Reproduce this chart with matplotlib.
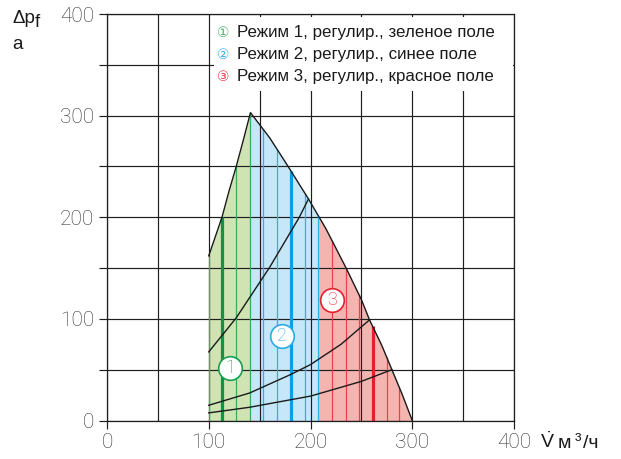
import numpy as np
import matplotlib
matplotlib.use('Agg')
import matplotlib.pyplot as plt
from matplotlib.patches import Rectangle
from matplotlib.ticker import MultipleLocator

# ---- data ----
left_V = [100, 113, 120, 127, 134, 141]
left_dp = [162, 200, 226, 250, 276, 303]
right_V = [141, 160, 178, 198, 215, 235, 250, 258, 270, 280, 290, 300]
right_dp = [303, 278, 250, 218, 189, 150, 119, 99, 74, 50, 26, 0]

c1_V = [100, 127, 160, 189, 198]
c1_dp = [67.5, 101, 151, 200, 218]
c2_V = [100, 140, 180, 200, 230, 258]
c2_dp = [15, 27, 45, 55, 75, 99]
c3_V = [100, 140, 200, 219, 250, 280]
c3_dp = [7.5, 13, 24, 29.5, 38.5, 50]

zone_bounds = [100, 141, 207.5, 300]
green_lines = [100, 113, 127, 141]
blue_lines = [153.5, 167, 181, 194.5, 207.5]
red_lines = [221.5, 235, 248, 261, 275, 287]
thick_lines = [113, 181, 261]

zone_labels = ['1', '2', '3']
zone_label_V = [121, 172, 221]
zone_label_dp = [52, 83.5, 119]

legend_texts = ['Режим 1, регулир., зеленое поле',
                'Режим 2, регулир., синее поле',
                'Режим 3, регулир., красное поле']
legend_marks = ['①', '②', '③']

x_ticks = [0, 100, 200, 300, 400]
y_ticks = [0, 100, 200, 300, 400]

# ---- styles ----
fill_cols = ['#cfe4b2', '#c6e7f8', '#f4b5b0']
line_cols = ['#3aaa5e', '#2db0e6', '#ee3f4a']
thick_cols = ['#0f9444', '#08a2e4', '#e3202b']
circ_cols = ['#1a9e50', '#2aace2', '#e8202a']
leg_cols = ['#4cb870', '#3ab4e6', '#ef4050']

plt.rcParams['mathtext.fontset'] = 'custom'
plt.rcParams['mathtext.rm'] = 'Liberation Sans'

W, H = 621, 459
fig = plt.figure(figsize=(W / 100, H / 100), dpi=100)
x0, x1, y0, y1 = 107, 514, 420.5, 14
ax = fig.add_axes([x0 / W, 1 - y0 / H, (x1 - x0) / W, (y0 - y1) / H])
ax.set_xlim(0, 400)
ax.set_ylim(0, 400)

env_V = np.array(left_V + right_V[1:], dtype=float)
env_dp = np.array(left_dp + right_dp[1:], dtype=float)

def env(v):
    return np.interp(v, env_V, env_dp)

# zone fills
for i in range(3):
    a, b = zone_bounds[i], zone_bounds[i + 1]
    xs = np.unique(np.concatenate([[a, b], env_V[(env_V > a) & (env_V < b)]]))
    ax.fill_between(xs, 0, env(xs), color=fill_cols[i], lw=0, zorder=1)

# ticks
ax.set_xticks(x_ticks)
ax.set_yticks(y_ticks)
ax.set_xticklabels([str(t) for t in x_ticks])
ax.set_yticklabels([str(t) for t in y_ticks])
ax.xaxis.set_minor_locator(MultipleLocator(50))
ax.yaxis.set_minor_locator(MultipleLocator(50))
ax.set_axisbelow(False)
ax.grid(which='both', color='#1e1e1e', lw=0.85)
ax.tick_params(axis='both', which='major', direction='out', length=5.8, width=0.85,
               color='#1e1e1e', labelsize=15, labelcolor='#333333')
ax.tick_params(axis='x', which='major', pad=3)
ax.tick_params(axis='y', which='major', pad=3.5)
ax.tick_params(axis='x', which='minor', length=0)
ax.tick_params(axis='y', which='minor', direction='out', length=5.8, width=0.85, color='#1e1e1e')
for lab in ax.get_xticklabels() + ax.get_yticklabels():
    lab.set_family('Roboto')
    lab.set_fontweight('light')

# zone vertical lines
for i, lines in enumerate([green_lines, blue_lines, red_lines]):
    for v in lines:
        thick = v in thick_lines
        ax.plot([v, v], [0, env(v)], color=thick_cols[i] if thick else line_cols[i],
                lw=2.3 if thick else 0.9, zorder=3, solid_capstyle='butt')

# outline and system curves
ax.plot(env_V, env_dp, color='#1a1a1a', lw=1.0, zorder=4)
for cv, cd in [(c1_V, c1_dp), (c2_V, c2_dp), (c3_V, c3_dp)]:
    ax.plot(cv, cd, color='#1a1a1a', lw=1.0, zorder=4)

# zone labels
for i in range(3):
    ax.plot(zone_label_V[i], zone_label_dp[i], 'o', ms=17, mfc='white',
            mec=circ_cols[i], mew=1.2, zorder=5)
    ax.text(zone_label_V[i], zone_label_dp[i] - 0.5, zone_labels[i], color=circ_cols[i],
            fontsize=13, family='Roboto', fontweight='light',
            ha='center', va='center', zorder=6)

for sp in ax.spines.values():
    sp.set_color('#1e1e1e')
    sp.set_linewidth(0.9)
    sp.set_zorder(7)

def fp(px, py):
    return px / W, 1 - py / H

# legend box (figure level, drawn above the axes content, inside the frame)
fig.patches.append(Rectangle(fp(214, 91), (512.5 - 214) / W, (91 - 16.5) / H,
                             transform=fig.transFigure, facecolor='white',
                             edgecolor='none', zorder=1))

base = [37, 59, 81]
for i in range(3):
    fig.text(*fp(217, base[i]), legend_marks[i], color=leg_cols[i], fontsize=10,
             family=['DejaVu Sans', 'Noto Sans CJK SC'], va='baseline', ha='left', zorder=3)
    fig.text(*fp(236.5, base[i]), legend_texts[i], color='#1a1a1a', fontsize=12.2,
             family='Liberation Sans', va='baseline', ha='left', zorder=3)

# axis titles
fig.text(*fp(12.5, 23), 'Δp', fontsize=13.5, family='Liberation Sans', color='#1a1a1a', va='baseline')
fig.text(*fp(34.5, 27), 'f', fontsize=13.5, family='Liberation Sans', color='#1a1a1a', va='baseline')
fig.text(*fp(12.5, 49), 'a', fontsize=13.5, family='Liberation Sans', color='#1a1a1a', va='baseline')

fig.text(*fp(540.5, 448.5), r'$\dot{\mathrm{V}}$', fontsize=14, color='#1a1a1a', va='baseline')
fig.text(*fp(557.5, 448.5), 'м', fontsize=14, family='Liberation Sans', color='#1a1a1a', va='baseline')
fig.text(*fp(575, 446), '³', fontsize=14, family='Liberation Sans', color='#1a1a1a', va='baseline')
fig.text(*fp(583, 448.5), '/ч', fontsize=14, family='Liberation Sans', color='#1a1a1a', va='baseline')

fig.savefig('out.png', dpi=100)
